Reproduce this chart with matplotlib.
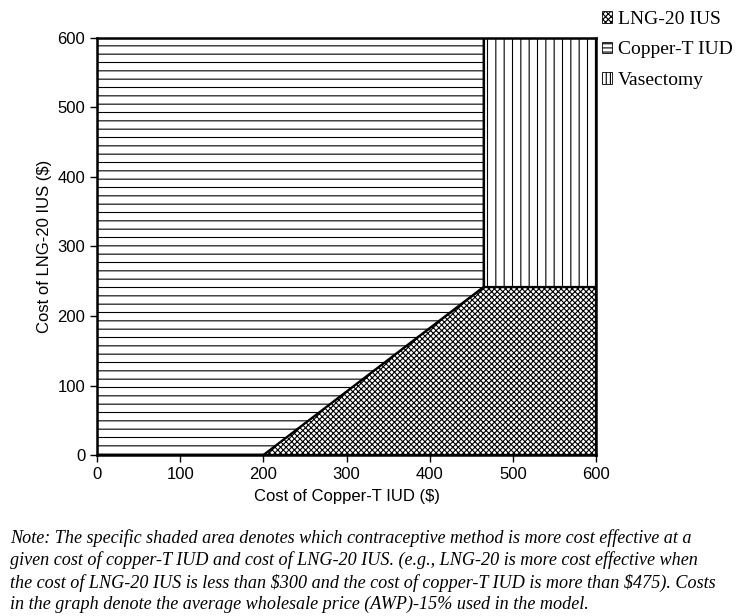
import matplotlib
matplotlib.use("Agg")
import matplotlib.pyplot as plt
from matplotlib.patches import Polygon, Patch

plt.rcParams["hatch.linewidth"] = 0.8

# region boundary points (Copper-T IUD cost, LNG-20 IUS cost)
x_min, x_max, y_min, y_max = 0, 600, 0, 600
lng_start_x = 200          # LNG-20 becomes preferred beyond this copper cost at y=0
corner_x, corner_y = 465, 242

regions = ["LNG-20 IUS", "Copper-T IUD", "Vasectomy"]
hatches = ["xxxxxx", "--", "||"]
legend_hatches = ["xxxxxx", "----", "||||"]  # denser so the tiny keys show lines
polys = {
    "Copper-T IUD": [(x_min, y_min), (lng_start_x, y_min), (corner_x, corner_y),
                     (corner_x, y_max), (x_min, y_max)],
    "LNG-20 IUS": [(lng_start_x, y_min), (x_max, y_min), (x_max, corner_y),
                   (corner_x, corner_y)],
    "Vasectomy": [(corner_x, corner_y), (x_max, corner_y), (x_max, y_max),
                  (corner_x, y_max)],
}
xticks = [0, 100, 200, 300, 400, 500, 600]
yticks = [0, 100, 200, 300, 400, 500, 600]

fig = plt.figure(figsize=(7.54, 6.16), dpi=100)
ax = fig.add_axes([97/754, 1-455/616, 499/754, 417/616])

for name, h in zip(regions, hatches):
    ax.add_patch(Polygon(polys[name], closed=True, facecolor="white",
                         edgecolor="black", hatch=h, linewidth=1.6))

ax.set_xlim(x_min, x_max); ax.set_ylim(y_min, y_max)
ax.set_xticks(xticks); ax.set_yticks(yticks)
for s in ax.spines.values():
    s.set_linewidth(1.8)
ax.tick_params(direction="out", length=5, width=1, labelsize=12)
for t in ax.get_xticklabels() + ax.get_yticklabels():
    t.set_family("Liberation Sans")
ax.set_xlabel("Cost of Copper-T IUD ($)", family="Liberation Sans", fontsize=12, labelpad=5)
ax.set_ylabel("Cost of LNG-20 IUS ($)", family="Liberation Sans", fontsize=12, labelpad=4)

handles = [Patch(facecolor="white", edgecolor="black", hatch=h, linewidth=0.6)
           for h in legend_hatches]
fig.legend(handles, regions, loc="upper left", bbox_to_anchor=(591/754, 1-0/616),
           frameon=False, handlelength=0.55, handleheight=0.55, handletextpad=0.3,
           labelspacing=0.7, borderaxespad=0.15,
           prop={"family": "Liberation Serif", "size": 14})

note = ("Note: The specific shaded area denotes which contraceptive method is more cost effective at a\n"
        "given cost of copper-T IUD and cost of LNG-20 IUS. (e.g., LNG-20 is more cost effective when\n"
        "the cost of LNG-20 IUS is less than \\$300 and the cost of copper-T IUD is more than \\$475). Costs\n"
        "in the graph denote the average wholesale price (AWP)-15% used in the model.")
fig.text(10/754, 1-529/616, note, ha="left", va="top", family="Liberation Serif",
         style="italic", fontsize=13.1, linespacing=1.32)

fig.savefig("out.png", dpi=100)
